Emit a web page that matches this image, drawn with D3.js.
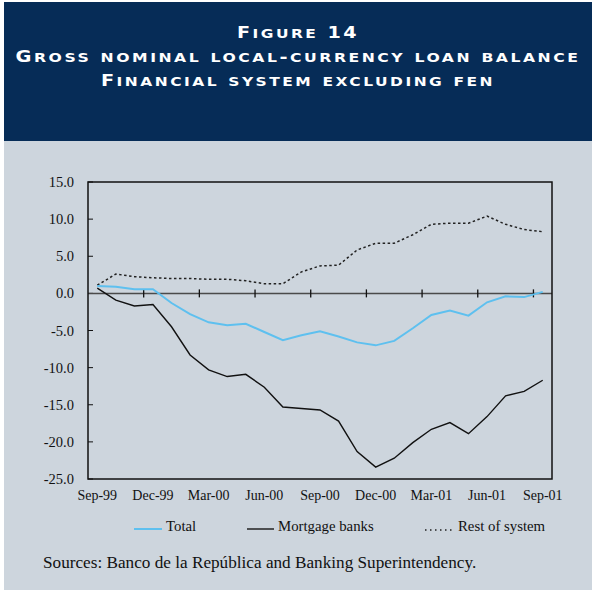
<!DOCTYPE html>
<html>
<head>
<meta charset="utf-8">
<script src="https://cdn.jsdelivr.net/npm/d3@7"></script>
<style>
	body { margin: 0; background: #ffffff; }
</style>
</head>
<body>
<div id="chart"></div>
<script>

// figure 14: gross nominal local-currency loan balance (annual % change)

// months on the x axis
var months = ["Sep-99", "Oct-99", "Nov-99", "Dec-99", "Jan-00", "Feb-00", "Mar-00",
	"Apr-00", "May-00", "Jun-00", "Jul-00", "Aug-00", "Sep-00", "Oct-00", "Nov-00",
	"Dec-00", "Jan-01", "Feb-01", "Mar-01", "Apr-01", "May-01", "Jun-01", "Jul-01",
	"Aug-01", "Sep-01"];

// series values
var total = [1.0, 0.9, 0.55, 0.55, -1.3, -2.8, -3.9, -4.3, -4.1, -5.2, -6.3, -5.65,
	-5.1, -5.8, -6.6, -7.0, -6.4, -4.7, -2.9, -2.3, -3.0, -1.2, -0.4, -0.5, 0.2];
var mortgage = [0.7, -0.9, -1.7, -1.5, -4.5, -8.3, -10.3, -11.2, -10.9, -12.65, -15.3,
	-15.5, -15.7, -17.2, -21.3, -23.4, -22.2, -20.1, -18.3, -17.4, -18.9, -16.6,
	-13.8, -13.2, -11.7];
var rest = [1.1, 2.6, 2.25, 2.1, 2.0, 2.0, 1.9, 1.9, 1.7, 1.3, 1.3, 2.9, 3.7, 3.8,
	5.85, 6.75, 6.75, 7.9, 9.3, 9.45, 9.45, 10.4, 9.3, 8.6, 8.3];

// tick labels
var yTicks = [15, 10, 5, 0, -5, -10, -15, -20, -25];
var xLabels = ["Sep-99", "Dec-99", "Mar-00", "Jun-00", "Sep-00", "Dec-00", "Mar-01", "Jun-01", "Sep-01"];

var titleLines = ["Figure 14", "Gross nominal local-currency loan balance", "Financial system excluding fen"];
var legendNames = ["Total", "Mortgage banks", "Rest of system"];
var source = "Sources: Banco de la República and Banking Superintendency.";

var width = 597, height = 591;
var navy = "#062c57", panel = "#cdd5dd", blue = "#5ec0ef";

var svg = d3.select("#chart")
	.append("svg")
		.attr("width", width)
		.attr("height", height);

// header band and panel
svg.append("rect")
		.attr("x", 4)
		.attr("y", 2)
		.attr("width", 588)
		.attr("height", 139)
		.attr("fill", navy);

svg.append("rect")
		.attr("x", 4)
		.attr("y", 141)
		.attr("width", 588)
		.attr("height", 449)
		.attr("fill", panel);

// title in hand-made small caps: capitals and digits big, the rest smaller
var titleY = [37.5, 62, 86], titleW = [122, 565, 394];
var title = svg.selectAll(".title")
	.data(titleLines)
	.enter().append("text")
		.attr("class", "title")
		.attr("x", 298)
		.attr("y", function (d, i) { return titleY[i]; })
		.attr("text-anchor", "middle")
		.attr("textLength", function (d, i) { return titleW[i]; })
		.attr("lengthAdjust", "spacingAndGlyphs")
		.attr("fill", "#ffffff")
		.style("font-family", "DejaVu Sans")
		.style("font-weight", "bold")
		.style("letter-spacing", "2px");

title.selectAll("tspan")
	.data(function (d) { return d.split(""); })
	.enter().append("tspan")
		.style("font-size", function (c) { return c === c.toLowerCase() && c !== c.toUpperCase() ? "12.5px" : "15.5px"; })
		.text(function (c) { return c.toUpperCase(); });

// scales
var x = d3.scaleBand().domain(months).range([88, 552]).padding(0);
var y = d3.scaleLinear().domain([-25, 15]).range([479, 182]);

var plot = svg.append("g");

// y tick labels and inward ticks
plot.selectAll(".ylab")
	.data(yTicks)
	.enter().append("text")
		.attr("x", 74)
		.attr("y", function (d) { return y(d) + 5; })
		.attr("text-anchor", "end")
		.style("font-family", "Liberation Serif")
		.style("font-size", "14.5px")
		.attr("fill", "#111")
		.text(function (d) { return d3.format(".1f")(d).replace("−", "-"); });

plot.selectAll(".ytick")
	.data(yTicks)
	.enter().append("line")
		.attr("x1", 88)
		.attr("x2", 93)
		.attr("y1", function (d) { return y(d); })
		.attr("y2", function (d) { return y(d); })
		.attr("stroke", "#111")
		.attr("stroke-width", 1);

// zero line with quarter ticks at month boundaries
plot.append("line")
		.attr("x1", 88)
		.attr("x2", 552)
		.attr("y1", y(0))
		.attr("y2", y(0))
		.attr("stroke", "#4a4a4a")
		.attr("stroke-width", 1.5);

var quarterStarts = months.filter(function (d, i) { return i > 0 && i % 3 === 0; });
plot.selectAll(".xtick")
	.data(quarterStarts)
	.enter().append("line")
		.attr("x1", function (d) { return x(d); })
		.attr("x2", function (d) { return x(d); })
		.attr("y1", y(0) - 4)
		.attr("y2", y(0) + 4)
		.attr("stroke", "#111")
		.attr("stroke-width", 1.3);

// x labels centred on their month
plot.selectAll(".xlab")
	.data(xLabels)
	.enter().append("text")
		.attr("x", function (d) { return x(d) + x.bandwidth() / 2; })
		.attr("y", 500)
		.attr("text-anchor", "middle")
		.style("font-family", "Liberation Serif")
		.style("font-size", "14px")
		.attr("fill", "#111")
		.text(function (d) { return d; });

// series lines
var line = d3.line()
	.x(function (d, i) { return x(months[i]) + x.bandwidth() / 2; })
	.y(function (d) { return y(d); });

plot.append("path")
		.datum(rest)
		.attr("d", line)
		.attr("fill", "none")
		.attr("stroke", "#222")
		.attr("stroke-width", 1.5)
		.attr("stroke-dasharray", "2.5,2.5");

plot.append("path")
		.datum(mortgage)
		.attr("d", line)
		.attr("fill", "none")
		.attr("stroke", "#111")
		.attr("stroke-width", 1.4);

plot.append("path")
		.datum(total)
		.attr("d", line)
		.attr("fill", "none")
		.attr("stroke", blue)
		.attr("stroke-width", 2);

// plot frame
plot.append("rect")
		.attr("x", 88)
		.attr("y", 182)
		.attr("width", 464)
		.attr("height", 297)
		.attr("fill", "none")
		.attr("stroke", "#111")
		.attr("stroke-width", 1.5);

// legend
var legX = [134, 247, 425], legLen = [28, 27, 29];
var legStyle = [
	{ color: blue, dash: null, w: 2 },
	{ color: "#222", dash: null, w: 1.5 },
	{ color: "#222", dash: "1.5,3.5", w: 1.5 }
];
var legend = svg.selectAll(".legend")
	.data(legendNames)
	.enter().append("g")
		.attr("transform", function (d, i) { return "translate(" + legX[i] + ",529)"; });

legend.append("line")
		.attr("x1", 0)
		.attr("x2", function (d, i) { return legLen[i]; })
		.attr("y1", function (d, i) { return i === 2 ? 1 : 0; })
		.attr("y2", function (d, i) { return i === 2 ? 1 : 0; })
		.attr("stroke", function (d, i) { return legStyle[i].color; })
		.attr("stroke-width", function (d, i) { return legStyle[i].w; })
		.attr("stroke-dasharray", function (d, i) { return legStyle[i].dash; });

legend.append("text")
		.attr("x", function (d, i) { return legLen[i] + 4; })
		.attr("y", 2)
		.style("font-family", "Liberation Serif")
		.style("font-size", "14.8px")
		.attr("fill", "#111")
		.text(function (d) { return d; });

// source note
svg.append("text")
		.attr("x", 43)
		.attr("y", 568)
		.style("font-family", "Liberation Serif")
		.style("font-size", "17.2px")
		.attr("fill", "#111")
		.text(source);

</script>
</body>
</html>
